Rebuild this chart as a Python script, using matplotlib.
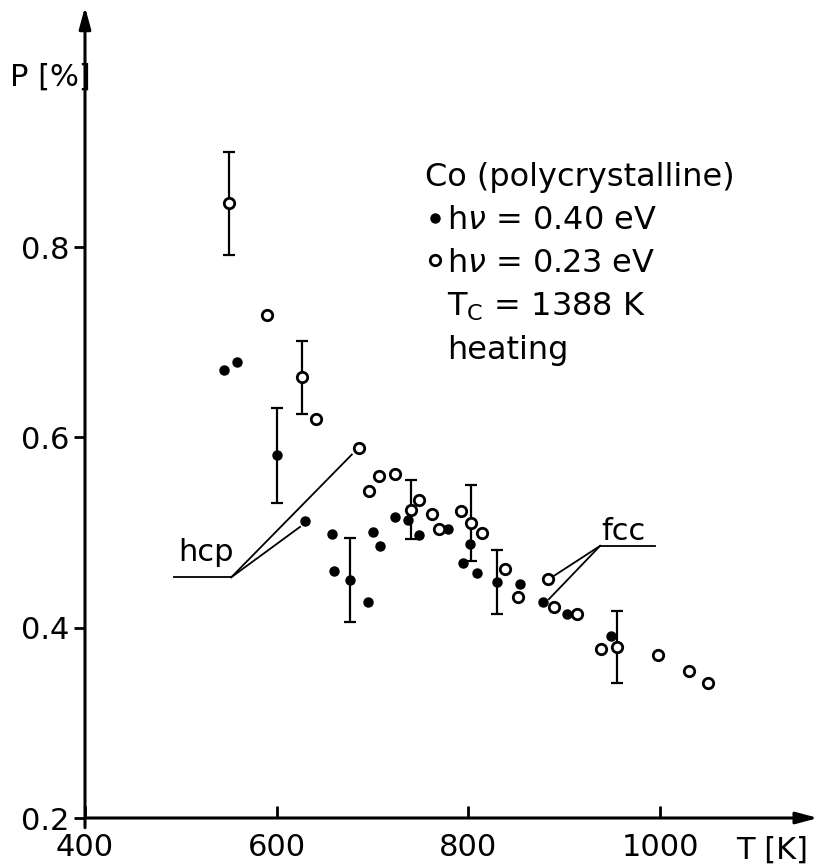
import numpy as np
import matplotlib
matplotlib.use('Agg')
import matplotlib.pyplot as plt
from matplotlib.lines import Line2D

nan = np.nan

# h nu = 0.40 eV (filled circles)
T_040 = [545, 559, 600, 630, 658, 660, 676, 695, 700, 708, 723, 737, 748,
         779, 794, 802, 809, 830, 854, 878, 903, 949]
P_040 = [0.671, 0.679, 0.581, 0.512, 0.498, 0.460, 0.450, 0.427, 0.501,
         0.486, 0.516, 0.513, 0.497, 0.504, 0.468, 0.488, 0.457, 0.448,
         0.446, 0.427, 0.414, 0.391]
dP_040 = [nan, nan, 0.050, nan, nan, nan, 0.044, nan, nan, nan, nan, nan,
          nan, nan, nan, nan, nan, 0.034, nan, nan, nan, nan]

# h nu = 0.23 eV (open circles)
T_023 = [550, 590, 626, 641, 686, 696, 707, 723, 740, 748, 762, 769, 792,
         803, 814, 838, 852, 883, 889, 913, 938, 955, 998, 1030, 1050]
P_023 = [0.846, 0.729, 0.663, 0.619, 0.589, 0.544, 0.559, 0.562, 0.524,
         0.534, 0.519, 0.504, 0.523, 0.510, 0.500, 0.462, 0.432, 0.451,
         0.422, 0.414, 0.378, 0.380, 0.371, 0.354, 0.342]
dP_023 = [0.054, nan, 0.038, nan, nan, nan, nan, nan, 0.031, nan, nan, nan,
          nan, 0.040, nan, nan, nan, nan, nan, nan, nan, 0.038, nan, nan, nan]

x_ticks = [400, 600, 800, 1000]
y_ticks = [0.2, 0.4, 0.6, 0.8]

FS = 22
plt.rcParams['font.family'] = 'DejaVu Sans'
plt.rcParams['mathtext.fontset'] = 'dejavusans'

fig = plt.figure(figsize=(8.2, 8.67), dpi=100)
ax = fig.add_axes([85/820, 49/867, 730/820, 808/867])
ax.set_xlim(400, 400 + 730/0.9585)
ax.set_ylim(0.2, 0.2 + 808/951.5)

for s in ax.spines.values():
    s.set_visible(False)

arrow = dict(arrowstyle='-|>,head_length=1.3,head_width=0.35', lw=2.2,
             color='black', shrinkA=0, shrinkB=0)
ax.annotate('', xy=(0, 1.004), xytext=(0, -0.012), xycoords='axes fraction',
            arrowprops=arrow)
ax.annotate('', xy=(1.004, 0), xytext=(0, 0), xycoords='axes fraction',
            arrowprops=arrow)

ax.set_xticks(x_ticks)
ax.set_xticklabels([str(v) for v in x_ticks])
ax.set_yticks(y_ticks)
ax.set_yticklabels(['%.1f' % v for v in y_ticks])
ax.tick_params(axis='x', direction='in', length=9, width=2, pad=11,
               labelsize=FS)
ax.tick_params(axis='y', direction='out', length=8, width=2, pad=3,
               labelsize=FS)

# error bars
ax.errorbar(T_040, P_040, yerr=dP_040, fmt='none', ecolor='black',
            elinewidth=1.6, capsize=4, capthick=1.6, zorder=2)
ax.errorbar(T_023, P_023, yerr=dP_023, fmt='none', ecolor='black',
            elinewidth=1.6, capsize=4, capthick=1.6, zorder=2)

ax.plot(T_040, P_040, 'o', color='black', ms=6.5, ls='none', zorder=3,
        clip_on=False)
ax.plot(T_023, P_023, 'o', mfc='white', mec='black', mew=2.0, ms=7.5,
        ls='none', zorder=4, clip_on=False)

# phase labels with leader lines
lc = dict(color='black', lw=1.3)
ax.plot([492.5, 552.6], [0.453, 0.453], **lc)
ax.plot([552.6, 678.4], [0.453, 0.582], **lc)
ax.plot([552.6, 624.4], [0.453, 0.506], **lc)
ax.text(497, 0.479, 'hcp', fontsize=FS, va='center', ha='left')

ax.plot([937.4, 994.2], [0.486, 0.486], **lc)
ax.plot([937.4, 887.0], [0.486, 0.453], **lc)
ax.plot([937.4, 884.0], [0.486, 0.430], **lc)
ax.text(939, 0.501, 'fcc', fontsize=FS, va='center', ha='left')

# legend block
LFS = 23
blank = Line2D([], [], ls='none', marker='')
h1 = Line2D([], [], ls='none', marker='o', color='black', ms=6.5)
h2 = Line2D([], [], ls='none', marker='o', mfc='white', mec='black',
            mew=2.0, ms=7.5)
leg = fig.legend([h1, h2, blank, blank],
                 [r'h$\nu$ = 0.40 eV', r'h$\nu$ = 0.23 eV',
                  r'T$_\mathrm{C}$ = 1388 K', 'heating'],
                 title='Co (polycrystalline)', title_fontsize=LFS,
                 fontsize=LFS, frameon=False, loc='upper left',
                 bbox_to_anchor=(425/820, 1 - 162/867),
                 borderpad=0, borderaxespad=0, handlelength=0.6,
                 handletextpad=0.1, labelspacing=0.37, alignment='left')

fig.text(10/820, 1 - 77/867, 'P [%]', fontsize=FS, va='center', ha='left')
fig.text(736/820, 1 - 850/867, 'T [K]', fontsize=FS, va='center', ha='left')

fig.savefig('out.png', dpi=100)
